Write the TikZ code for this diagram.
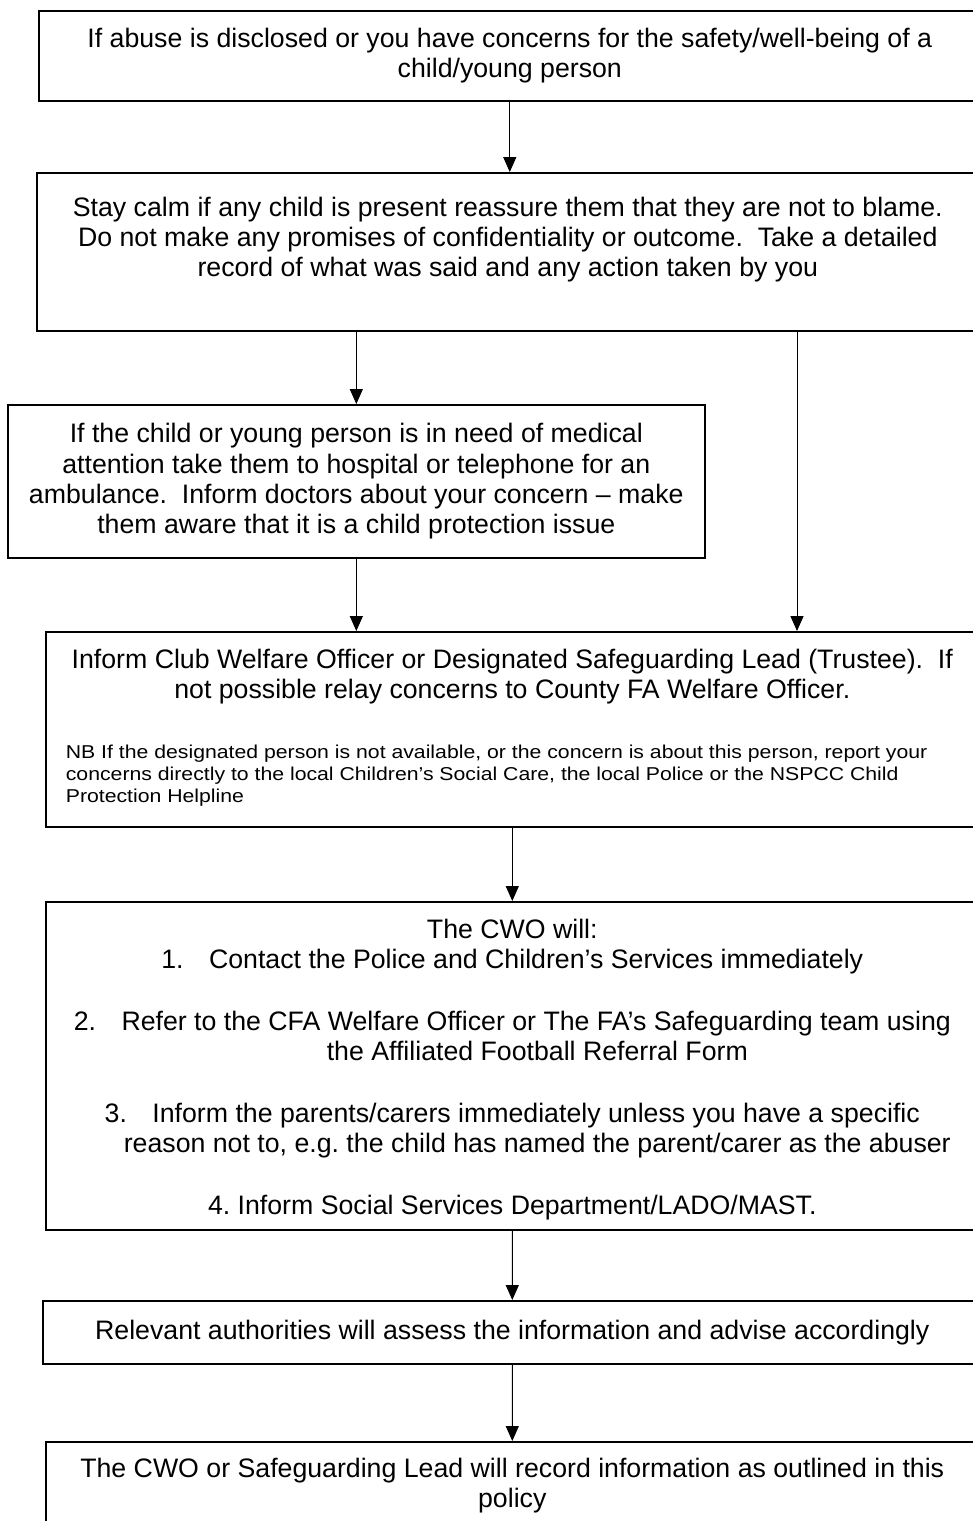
\documentclass[tikz,border=0pt]{standalone}
\usepackage{fontspec}
\setmainfont{Liberation Sans}
\newfontfamily\nbfont{Liberation Sans}[FakeStretch=1.14]
\usetikzlibrary{arrows.meta}

\newcommand\mainsize{\fontsize{15.2}{17.2}\selectfont}
\newcommand\nbsize{\nbfont\fontsize{10.6}{12.3}\selectfont}
\newcommand\numgap{\hspace{14.5pt}}

\begin{document}
\begin{tikzpicture}[x=0.02cm, y=-0.02cm, line join=miter,
  flowbox/.style={draw, line width=1pt, anchor=north west, inner sep=0pt,
    align=center, font=\mainsize},
  flowarrow/.style={line width=0.55pt, -{Triangle[length=8.5pt,width=7.4pt]}}]

%-----------------------
% page frame (boxes run off the right edge)
%-----------------------
\useasboundingbox (0,0) rectangle (973,1521);
\clip (0,0) rectangle (973,1521);

%-----------------------
% boxes, top to bottom
%-----------------------
\node[flowbox, minimum width=18.84cm, minimum height=1.8cm] (disclose) at (38,10)
  {If abuse is disclosed or you have concerns for the safety/well-being of a\\
   child/young person};

\node[flowbox, minimum width=18.84cm, minimum height=3.16cm] (calm) at (36,172)
  {Stay calm if any child is present reassure them that they are not to blame.\\
   Do not make any promises of confidentiality or outcome.\ \ Take a detailed\\
   record of what was said and any action taken by you\\ \mbox{}};

\node[flowbox, minimum width=13.94cm, minimum height=3.06cm] (medical) at (7,404)
  {If the child or young person is in need of medical\\
   attention take them to hospital or telephone for an\\
   ambulance.\ \ Inform doctors about your concern – make\\
   them aware that it is a child protection issue};

\node[flowbox, minimum width=18.66cm, minimum height=3.9cm] (inform) at (45,631)
  {Inform Club Welfare Officer or Designated Safeguarding Lead (Trustee).\ \ If\\
   not possible relay concerns to County FA Welfare Officer.\\[17.3pt]
   \parbox[t]{17.86cm}{\nbsize\raggedright
   NB If the designated person is not available, or the concern is about this person, report your\\
   concerns directly to the local Children’s Social Care, the local Police or the NSPCC Child\\
   Protection Helpline\rule[-4.5pt]{0pt}{0pt}}};

\node[flowbox, minimum width=18.66cm, minimum height=6.56cm] (cwo) at (45,901)
  {\rule{0pt}{15pt}The CWO will:\\
   1.\numgap Contact the Police and Children’s Services immediately\\[17.9pt]
   2.\numgap Refer to the CFA Welfare Officer or The FA’s Safeguarding team using\\
   \hspace*{1cm}the Affiliated Football Referral Form\\[17.9pt]
   3.\numgap Inform the parents/carers immediately unless you have a specific\\
   \hspace*{1cm}reason not to, e.g.\ the child has named the parent/carer as the abuser\\[17.9pt]
   4.\ Inform Social Services Department/LADO/MAST.};

\node[flowbox, minimum width=18.78cm, minimum height=1.26cm] (assess) at (42,1300)
  {Relevant authorities will assess the information and advise accordingly};

\node[flowbox, minimum width=18.66cm, minimum height=1.76cm] (record) at (45,1441)
  {The CWO or Safeguarding Lead will record information as outlined in this\\
   policy};

%-----------------------
% connectors
%-----------------------
\coordinate (bypass) at (797,0);   % straight line past the medical box

\draw[flowarrow] (disclose.south) -- (disclose.south |- calm.north);
\draw[flowarrow] (calm.south -| medical.north) -- (medical.north);
\draw[flowarrow] (calm.south -| bypass) -- (inform.north -| bypass);
\draw[flowarrow] (medical.south) -- (inform.north -| medical.south);
\draw[flowarrow] (inform.south) -- (cwo.north);
\draw[flowarrow] (cwo.south) -- (assess.north);
\draw[flowarrow] (assess.south) -- (record.north);

\end{tikzpicture}
\end{document}
